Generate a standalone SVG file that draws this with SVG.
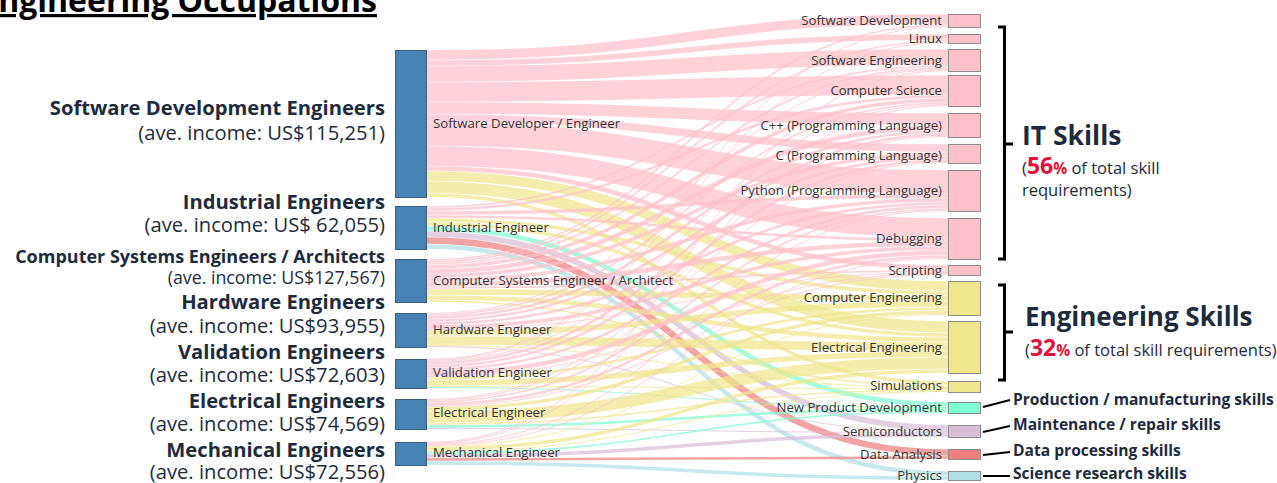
<svg xmlns="http://www.w3.org/2000/svg" width="1277" height="483" viewBox="0 0 1277 483">
<style>
.f{fill:none;stroke-opacity:0.72}
.pk{stroke:#ffc0cb}.yl{stroke:#f0e68c}.tq{stroke:#7fffd4}.pu{stroke:#d8bfd8}.rd{stroke:#f08080}.bl{stroke:#b0e0e6}
.src{fill:#4682b4;stroke:#3b5f80;stroke-width:1}
.tg{stroke:#8c8c8c;stroke-width:1}
.npk{fill:#ffc0cb}.nyl{fill:#f0e68c}.ntq{fill:#7fffd4}.npu{fill:#d8bfd8}.nrd{fill:#f08080}.nbl{fill:#b0e0e6}
.nl{font-family:"Open Sans","Noto Sans",sans-serif;font-size:13.2px;fill:#333}
.tr{text-anchor:end}
.big{font-family:"Open Sans","Noto Sans",sans-serif;font-weight:bold;fill:#1e2b3c;text-anchor:end}
.inc{font-family:"Open Sans","Noto Sans",sans-serif;fill:#1e2b3c;text-anchor:end}
.hd{font-family:"Open Sans","Noto Sans",sans-serif;font-weight:bold;fill:#1e2b3c}
.sub{font-family:"Open Sans","Noto Sans",sans-serif;fill:#1e2b3c;font-size:16.5px}
.pct{fill:#e0103c;font-weight:bold}
.br{fill:none;stroke:#000;stroke-width:3}
.ln{stroke:#000;stroke-width:2}
.sm{font-family:"Open Sans","Noto Sans",sans-serif;font-weight:bold;fill:#1e2b3c;font-size:15.6px}
</style>

<text x="377" y="12" font-family="'Open Sans','Noto Sans',sans-serif" font-weight="bold" font-size="32" fill="#000" text-anchor="end" text-decoration="underline">Engineering Occupations</text>

<g id="connectors">
<!-- SDE -->
<path class="f pk" stroke-width="9.5" d="M427 55C687 55 687 19 948 19"/>
<path class="f pk" stroke-width="5.5" d="M427 63C687 63 687 37 948 37"/>
<path class="f pk" stroke-width="15.5" d="M427 74C687 74 687 57 948 57"/>
<path class="f pk" stroke-width="19.5" d="M427 92C687 92 687 85 948 85"/>
<path class="f pk" stroke-width="11.5" d="M427 108C687 108 687 119 948 119"/>
<path class="f pk" stroke-width="7.5" d="M427 118C687 118 687 148 948 148"/>
<path class="f pk" stroke-width="23.5" d="M427 134C687 134 687 182 948 182"/>
<path class="f pk" stroke-width="19.5" d="M427 156C687 156 687 228 948 228"/>
<path class="f pk" stroke-width="4.5" d="M427 168.5C687 168.5 687 267.5 948 267.5"/>
<path class="f yl" stroke-width="9.5" d="M427 176C687 176 687 286 948 286"/>
<path class="f yl" stroke-width="11.5" d="M427 187C687 187 687 327 948 327"/>
<path class="f yl" stroke-width="3.5" d="M427 195C687 195 687 383 948 383"/>
<!-- Industrial -->
<path class="f pk" stroke-width="1.6" d="M427 207C687 207 687 66 948 66"/>
<path class="f pk" stroke-width="2.5" d="M427 209.5C687 209.5 687 96.5 948 96.5"/>
<path class="f pk" stroke-width="3.5" d="M427 213C687 213 687 196 948 196"/>
<path class="f pk" stroke-width="2.5" d="M427 216.5C687 216.5 687 239.5 948 239.5"/>
<path class="f yl" stroke-width="3.5" d="M427 220C687 220 687 293 948 293"/>
<path class="f yl" stroke-width="3.5" d="M427 224C687 224 687 335 948 335"/>
<path class="f tq" stroke-width="4.5" d="M427 228.5C687 228.5 687 404.5 948 404.5"/>
<path class="f pu" stroke-width="5.5" d="M427 234C687 234 687 428 948 428"/>
<path class="f rd" stroke-width="6.5" d="M427 240.5C687 240.5 687 452.5 948 452.5"/>
<path class="f bl" stroke-width="4.5" d="M427 246.5C687 246.5 687 473.5 948 473.5"/>
<!-- CSE -->
<path class="f pk" stroke-width="1.6" d="M427 260C687 260 687 25 948 25"/>
<path class="f pk" stroke-width="1.6" d="M427 262C687 262 687 41 948 41"/>
<path class="f pk" stroke-width="1.6" d="M427 264C687 264 687 68 948 68"/>
<path class="f pk" stroke-width="3.5" d="M427 267C687 267 687 100 948 100"/>
<path class="f pk" stroke-width="4.5" d="M427 271.5C687 271.5 687 127.5 948 127.5"/>
<path class="f pk" stroke-width="3.5" d="M427 276C687 276 687 154 948 154"/>
<path class="f pk" stroke-width="3.5" d="M427 280C687 280 687 200 948 200"/>
<path class="f pk" stroke-width="4.5" d="M427 284.5C687 284.5 687 243.5 948 243.5"/>
<path class="f pk" stroke-width="1.6" d="M427 288C687 288 687 271 948 271"/>
<path class="f yl" stroke-width="5.5" d="M427 292C687 292 687 298 948 298"/>
<path class="f yl" stroke-width="4.5" d="M427 297.5C687 297.5 687 339.5 948 339.5"/>
<path class="f yl" stroke-width="1.6" d="M427 301C687 301 687 386 948 386"/>
<!-- HW -->
<path class="f pk" stroke-width="1" d="M427 313.5C687 313.5 687 69.5 948 69.5"/>
<path class="f pk" stroke-width="1.6" d="M427 315C687 315 687 103 948 103"/>
<path class="f pk" stroke-width="2.5" d="M427 317.5C687 317.5 687 131.5 948 131.5"/>
<path class="f pk" stroke-width="2.5" d="M427 320.5C687 320.5 687 157.5 948 157.5"/>
<path class="f pk" stroke-width="2.5" d="M427 323.5C687 323.5 687 203.5 948 203.5"/>
<path class="f pk" stroke-width="3.5" d="M427 327C687 327 687 248 948 248"/>
<path class="f pk" stroke-width="1" d="M427 329.5C687 329.5 687 272.5 948 272.5"/>
<path class="f yl" stroke-width="5.5" d="M427 333C687 333 687 304 948 304"/>
<path class="f yl" stroke-width="8.5" d="M427 340.5C687 340.5 687 346.5 948 346.5"/>
<path class="f yl" stroke-width="1" d="M427 345.5C687 345.5 687 387.5 948 387.5"/>
<path class="f pu" stroke-width="1" d="M427 346.5C687 346.5 687 431.5 948 431.5"/>
<!-- Validation -->
<path class="f pk" stroke-width="1" d="M427 359.5C687 359.5 687 26.5 948 26.5"/>
<path class="f pk" stroke-width="1" d="M427 360.5C687 360.5 687 42.5 948 42.5"/>
<path class="f pk" stroke-width="1" d="M427 361.5C687 361.5 687 104.5 948 104.5"/>
<path class="f pk" stroke-width="2.5" d="M427 363.5C687 363.5 687 134.5 948 134.5"/>
<path class="f pk" stroke-width="2.5" d="M427 366.5C687 366.5 687 160.5 948 160.5"/>
<path class="f pk" stroke-width="2.5" d="M427 369.5C687 369.5 687 206.5 948 206.5"/>
<path class="f pk" stroke-width="4.5" d="M427 373.5C687 373.5 687 252.5 948 252.5"/>
<path class="f pk" stroke-width="1" d="M427 376.5C687 376.5 687 273.5 948 273.5"/>
<path class="f yl" stroke-width="2.5" d="M427 378.5C687 378.5 687 308.5 948 308.5"/>
<path class="f yl" stroke-width="5.5" d="M427 383C687 383 687 354 948 354"/>
<path class="f yl" stroke-width="1" d="M427 386.5C687 386.5 687 388.5 948 388.5"/>
<path class="f tq" stroke-width="1" d="M427 387.5C687 387.5 687 407.5 948 407.5"/>
<!-- Electrical -->
<path class="f pk" stroke-width="1" d="M427 399.5C687 399.5 687 136.5 948 136.5"/>
<path class="f pk" stroke-width="1" d="M427 400.5C687 400.5 687 162.5 948 162.5"/>
<path class="f pk" stroke-width="1.6" d="M427 402C687 402 687 209 948 209"/>
<path class="f pk" stroke-width="2.5" d="M427 404.5C687 404.5 687 256.5 948 256.5"/>
<path class="f pk" stroke-width="1" d="M427 406.5C687 406.5 687 274.5 948 274.5"/>
<path class="f yl" stroke-width="3.5" d="M427 409C687 409 687 312 948 312"/>
<path class="f yl" stroke-width="11.5" d="M427 417C687 417 687 363 948 363"/>
<path class="f yl" stroke-width="1.6" d="M427 424C687 424 687 390 948 390"/>
<path class="f tq" stroke-width="2.5" d="M427 426.5C687 426.5 687 409.5 948 409.5"/>
<path class="f pu" stroke-width="1" d="M427 428.5C687 428.5 687 432.5 948 432.5"/>
<!-- Mechanical -->
<path class="f pk" stroke-width="1" d="M427 442.5C687 442.5 687 70.5 948 70.5"/>
<path class="f pk" stroke-width="1" d="M427 443.5C687 443.5 687 105.5 948 105.5"/>
<path class="f pk" stroke-width="1" d="M427 444.5C687 444.5 687 210.5 948 210.5"/>
<path class="f pk" stroke-width="1" d="M427 445.5C687 445.5 687 258.5 948 258.5"/>
<path class="f yl" stroke-width="1" d="M427 446.5C687 446.5 687 314.5 948 314.5"/>
<path class="f yl" stroke-width="3.5" d="M427 449C687 449 687 371 948 371"/>
<path class="f yl" stroke-width="1" d="M427 451.5C687 451.5 687 391.5 948 391.5"/>
<path class="f tq" stroke-width="1.6" d="M427 453C687 453 687 412 948 412"/>
<path class="f pu" stroke-width="3.5" d="M427 456C687 456 687 435 948 435"/>
<path class="f rd" stroke-width="2.5" d="M427 459.5C687 459.5 687 457.5 948 457.5"/>
<path class="f bl" stroke-width="3.5" d="M427 463C687 463 687 478 948 478"/>
<!-- right side label connectors -->
<line class="ln" x1="983" y1="407" x2="1010" y2="400"/>
<line class="ln" x1="983" y1="432" x2="1010" y2="426"/>
<line class="ln" x1="983" y1="455" x2="1010" y2="452"/>
<line class="ln" x1="983" y1="476" x2="1010" y2="476"/>
</g>

<!-- Source nodes -->
<g id="n-sde"><rect class="src" x="395.5" y="50.5" width="31" height="147"/><text class="nl" x="433" y="128">Software Developer / Engineer</text>
<text class="big" x="385" y="115" font-size="20.2">Software Development Engineers</text><text class="inc" x="385" y="140" font-size="20.2">(ave. income: US$115,251)</text></g>
<g id="n-ind"><rect class="src" x="395.5" y="206.5" width="31" height="43"/><text class="nl" x="433" y="232">Industrial Engineer</text>
<text class="big" x="385" y="209" font-size="20.2">Industrial Engineers</text><text class="inc" x="385" y="232" font-size="20.2">(ave. income: US$ 62,055)</text></g>
<g id="n-cse"><rect class="src" x="395.5" y="259.5" width="31" height="43"/><text class="nl" x="433" y="285">Computer Systems Engineer / Architect</text>
<text class="big" x="385" y="263" font-size="18">Computer Systems Engineers / Architects</text><text class="inc" x="385" y="284" font-size="17.8">(ave. income: US$127,567)</text></g>
<g id="n-hw"><rect class="src" x="395.5" y="313.5" width="31" height="34"/><text class="nl" x="433" y="334">Hardware Engineer</text>
<text class="big" x="385" y="309" font-size="20.2">Hardware Engineers</text><text class="inc" x="385" y="333" font-size="20.2">(ave. income: US$93,955)</text></g>
<g id="n-val"><rect class="src" x="395.5" y="359.5" width="31" height="29"/><text class="nl" x="433" y="377">Validation Engineer</text>
<text class="big" x="385" y="359" font-size="20.2">Validation Engineers</text><text class="inc" x="385" y="382" font-size="20.2">(ave. income: US$72,603)</text></g>
<g id="n-ee"><rect class="src" x="395.5" y="399.5" width="31" height="30"/><text class="nl" x="433" y="417">Electrical Engineer</text>
<text class="big" x="385" y="408" font-size="20.2">Electrical Engineers</text><text class="inc" x="385" y="431" font-size="20.2">(ave. income: US$74,569)</text></g>
<g id="n-mech"><rect class="src" x="395.5" y="442.5" width="31" height="23"/><text class="nl" x="433" y="457">Mechanical Engineer</text>
<text class="big" x="385" y="457" font-size="20.2">Mechanical Engineers</text><text class="inc" x="385" y="479" font-size="20.2">(ave. income: US$72,556)</text></g>

<!-- Target nodes -->
<g id="t-sd"><rect class="tg npk" x="948.5" y="14.5" width="32" height="13"/><text class="nl tr" x="942" y="25">Software Development</text></g>
<g id="t-lx"><rect class="tg npk" x="948.5" y="34.5" width="32" height="9"/><text class="nl tr" x="942" y="43">Linux</text></g>
<g id="t-se"><rect class="tg npk" x="948.5" y="49.5" width="32" height="22"/><text class="nl tr" x="942" y="64.5">Software Engineering</text></g>
<g id="t-cs"><rect class="tg npk" x="948.5" y="75.5" width="32" height="31"/><text class="nl tr" x="942" y="95">Computer Science</text></g>
<g id="t-cpp"><rect class="tg npk" x="948.5" y="113.5" width="32" height="24"/><text class="nl tr" x="942" y="129.5">C++ (Programming Language)</text></g>
<g id="t-c"><rect class="tg npk" x="948.5" y="144.5" width="32" height="19"/><text class="nl tr" x="942" y="159.5">C (Programming Language)</text></g>
<g id="t-py"><rect class="tg npk" x="948.5" y="170.5" width="32" height="41"/><text class="nl tr" x="942" y="195">Python (Programming Language)</text></g>
<g id="t-dbg"><rect class="tg npk" x="948.5" y="218.5" width="32" height="41"/><text class="nl tr" x="942" y="243">Debugging</text></g>
<g id="t-scr"><rect class="tg npk" x="948.5" y="265.5" width="32" height="10"/><text class="nl tr" x="942" y="275">Scripting</text></g>
<g id="t-ce"><rect class="tg nyl" x="948.5" y="281.5" width="32" height="34"/><text class="nl tr" x="942" y="302">Computer Engineering</text></g>
<g id="t-ee"><rect class="tg nyl" x="948.5" y="321.5" width="32" height="52"/><text class="nl tr" x="942" y="352">Electrical Engineering</text></g>
<g id="t-sim"><rect class="tg nyl" x="948.5" y="381.5" width="32" height="11"/><text class="nl tr" x="942" y="390">Simulations</text></g>
<g id="t-npd"><rect class="tg ntq" x="948.5" y="402.5" width="32" height="11"/><text class="nl tr" x="942" y="412">New Product Development</text></g>
<g id="t-semi"><rect class="tg npu" x="948.5" y="425.5" width="32" height="12"/><text class="nl tr" x="942" y="436">Semiconductors</text></g>
<g id="t-da"><rect class="tg nrd" x="948.5" y="449.5" width="32" height="10"/><text class="nl tr" x="942" y="459">Data Analysis</text></g>
<g id="t-phy"><rect class="tg nbl" x="948.5" y="471.5" width="32" height="9"/><text class="nl tr" x="942" y="480">Physics</text></g>

<!-- Group annotations -->
<g id="it-skills">
<path class="br" d="M998 27H1004.5V144H1013M1004.5 144V259H998"/>
<text class="hd" x="1022" y="145" font-size="26.5">IT Skills</text>
<text class="sub" x="1022" y="174">(<tspan class="pct" font-size="23">56</tspan><tspan class="pct" font-size="15.5">%</tspan> of total skill</text>
<text class="sub" x="1022" y="196">requirements)</text>
</g>
<g id="eng-skills">
<path class="br" d="M998 285H1004.5V332H1013M1004.5 332V380H998"/>
<text class="hd" x="1025" y="326" font-size="26">Engineering Skills</text>
<text class="sub" x="1025" y="356">(<tspan class="pct" font-size="23">32</tspan><tspan class="pct" font-size="15.5">%</tspan> of total skill requirements)</text>
</g>
<g id="other-skills">
<text class="sm" x="1013" y="405">Production / manufacturing skills</text>
<text class="sm" x="1013" y="430">Maintenance / repair skills</text>
<text class="sm" x="1013" y="456">Data processing skills</text>
<text class="sm" x="1013" y="479">Science research skills</text>
</g>
</svg>
